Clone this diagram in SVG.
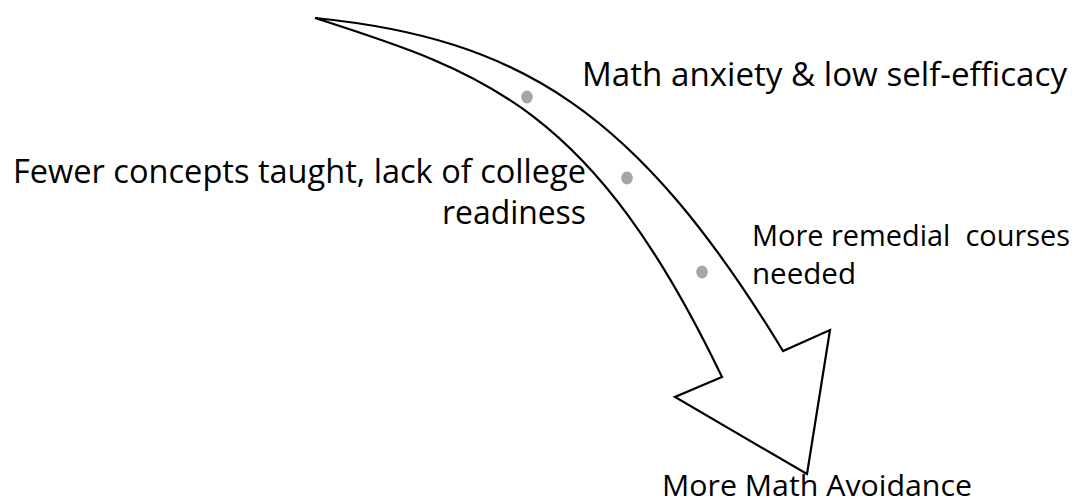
<svg xmlns="http://www.w3.org/2000/svg" width="1075" height="502" viewBox="0 0 1075 502">
<style>
.lbl{font-family:"Open Sans","Liberation Sans",sans-serif;fill:#000;}
.big{font-size:33px;}
.med{font-size:30px;}
.arrow{fill:#fff;stroke:#000;stroke-width:2.2;stroke-linejoin:miter;}
.dot{fill:#A6A6A6;}
</style>
<rect width="1075" height="502" fill="#fff"/>
<g id="connectors">
<path id="curved-arrow" class="arrow" d="M315,18 C520,38.5 637.3,111.3 783,351 L830,330 L807,474 L675,397 L722,377 C592.5,107.5 485,72.4 315,18 Z"/>
</g>
<g id="dots">
<ellipse class="dot" cx="527" cy="97" rx="5.8" ry="6.5"/>
<ellipse class="dot" cx="627" cy="178" rx="5.8" ry="6.5"/>
<ellipse class="dot" cx="702" cy="272" rx="5.8" ry="6.5"/>
</g>
<g id="node-anxiety">
<text class="lbl big" x="582" y="86" textLength="485" lengthAdjust="spacingAndGlyphs">Math anxiety &amp; low self-efficacy</text>
</g>
<g id="node-concepts">
<text class="lbl big" x="13" y="183" textLength="573" lengthAdjust="spacingAndGlyphs">Fewer concepts taught, lack of college</text>
<text class="lbl big" x="442" y="224" textLength="144" lengthAdjust="spacingAndGlyphs">readiness</text>
</g>
<g id="node-remedial">
<text class="lbl med" x="752" y="246" textLength="318" lengthAdjust="spacingAndGlyphs" xml:space="preserve">More remedial  courses</text>
<text class="lbl med" x="752" y="284" textLength="104" lengthAdjust="spacingAndGlyphs">needed</text>
</g>
<g id="node-avoidance">
<text class="lbl med" x="662" y="496" textLength="310" lengthAdjust="spacingAndGlyphs">More Math Avoidance</text>
</g>
</svg>
